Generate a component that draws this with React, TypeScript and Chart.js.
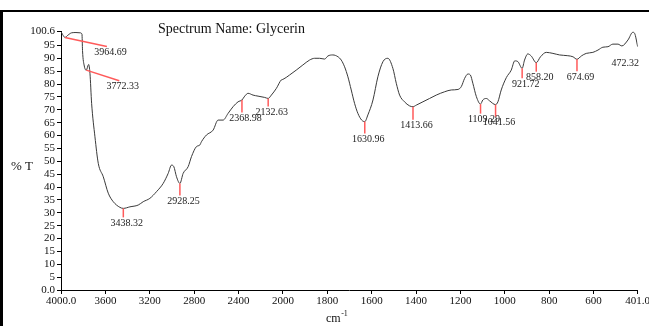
import React, { useEffect, useRef } from "react";
import { Chart, registerables } from "chart.js";

Chart.register(...registerables);

// ---------- data ----------
const spectrumWavenumbers = [
  4000, 3985, 3964.69, 3937, 3904, 3865, 3829, 3811, 3806, 3790, 3772.33, 3751, 3739, 3724, 3694, 3664,
  3619, 3574, 3529, 3469, 3438.32, 3379, 3304, 3259, 3199, 3139, 3079, 3034, 3004, 2983, 2959, 2928.25,
  2899, 2854, 2824, 2779, 2749, 2734, 2689, 2629, 2584, 2539, 2494, 2449, 2404, 2368.98, 2344, 2314,
  2269, 2224, 2164, 2132.63, 2104, 2059, 2014, 2000, 1970, 1940, 1910, 1880, 1857, 1835, 1812, 1797,
  1775, 1752, 1737, 1722, 1707, 1692, 1677, 1662, 1645, 1630.96, 1617, 1594, 1572, 1549, 1527, 1504,
  1489, 1474, 1452, 1429, 1413.66, 1399, 1369, 1339, 1309, 1271, 1241, 1211, 1196, 1181, 1166, 1155,
  1144, 1128, 1109.29, 1099, 1083, 1069, 1041.56, 1031, 1016, 993, 971, 955, 941, 921.72, 911, 896,
  881, 858.2, 839, 813, 783, 753, 716, 693, 674.69, 655, 633, 603, 580, 558, 535, 513,
  490, 472.32, 445, 423, 415, 401,
];
const spectrumTransmittance = [
  100.3, 99.2, 98.1, 99.0, 99.9, 100.0, 99.9, 99.4, 93.0, 87.0, 85.4, 87.6, 84.2, 72.5, 59.5, 49.2,
  44.0, 37.6, 34.3, 32.1, 31.7, 32.3, 33.0, 34.3, 35.6, 38.2, 41.4, 45.3, 48.5, 47.9, 44.0, 41.4,
  45.3, 47.9, 51.8, 55.7, 56.3, 57.6, 60.2, 62.1, 66.0, 66.0, 68.6, 71.2, 73.1, 73.8, 75.3, 76.4,
  75.7, 75.3, 74.8, 74.4, 75.7, 78.3, 81.6, 81.8, 83.5, 85.4, 87.4, 89.3, 90.0, 90.0, 89.7, 90.9,
  91.3, 90.6, 89.3, 86.7, 82.8, 77.7, 72.5, 68.6, 66.0, 65.4, 68.0, 73.8, 82.8, 88.7, 90.0, 86.0,
  80.3, 75.7, 73.1, 71.5, 71.2, 71.8, 73.1, 74.4, 75.7, 77.0, 77.7, 77.9, 79.0, 82.2, 83.9, 83.5,
  80.3, 75.1, 72.2, 73.8, 74.4, 73.5, 72.0, 73.1, 77.7, 82.5, 85.4, 89.0, 88.7, 86.1, 89.3, 91.7,
  90.9, 88.3, 90.6, 92.3, 91.9, 91.3, 91.0, 90.6, 89.6, 90.9, 91.9, 92.3, 93.2, 94.3, 94.5, 95.5,
  95.5, 94.8, 97.1, 100.1, 99.7, 94.5,
];

const peakWavenumbers = [3964.69, 3772.33, 3438.32, 2928.25, 2368.98, 2132.63, 1630.96, 1413.66, 1109.29, 1041.56, 921.72, 858.2, 674.69, 472.32];
const peakTransmittance = [98.1, 85.4, 31.7, 41.4, 73.8, 74.4, 65.4, 71.2, 72.2, 72.0, 86.1, 88.3, 89.6, 94.8];
const peakLabels = ["3964.69", "3772.33", "3438.32", "2928.25", "2368.98", "2132.63", "1630.96", "1413.66", "1109.29", "1041.56", "921.72", "858.20", "674.69", "472.32"];

const xTickValues = [4000, 3600, 3200, 2800, 2400, 2000, 1800, 1600, 1400, 1200, 1000, 800, 600, 401];
const xTickLabels = ["4000.0", "3600", "3200", "2800", "2400", "2000", "1800", "1600", "1400", "1200", "1000", "800", "600", "401.0"];
const yTickValues = [0, 5, 10, 15, 20, 25, 30, 35, 40, 45, 50, 55, 60, 65, 70, 75, 80, 85, 90, 95, 100.6];
const yTickLabels = ["0.0", "5", "10", "15", "20", "25", "30", "35", "40", "45", "50", "55", "60", "65", "70", "75", "80", "85", "90", "95", "100.6"];

const chartTitle = "Spectrum Name: Glycerin";
const yAxisTitle = "% T";
const xAxisTitle = "cm";
const xAxisTitleSup = "-1";

// ---------- layout of the peak markers (pixels): [dx, dy, drawLine] ----------
const peakMarkerLayout: [number, number, boolean][] = [
  [42, 9, true], [33, 10.7, true], [0, 9, true], [0, 12, true], [0, 12.6, true], [0, 8, true],
  [0, 12, true], [0, 13, true], [0, 9.5, true], [0, 12, true], [0, 10, true], [0, 9, true],
  [0, 12, true], [0, 11.4, false],
];

// wavenumber axis is expanded x2 below 2000 cm-1
function toAxis(w: number): number {
  return w >= 2000 ? 4000 - w : 2000 + 2 * (2000 - w);
}

const SERIF = '"Liberation Serif", "Times New Roman", serif';

const overlayPlugin = {
  id: "overlay",
  afterDraw(chart: any) {
    const ctx = chart.ctx as CanvasRenderingContext2D;
    const xs = chart.scales.x;
    const ys = chart.scales.y;
    ctx.save();
    // title
    ctx.fillStyle = "#111";
    ctx.textAlign = "left";
    ctx.textBaseline = "middle";
    ctx.font = `14px ${SERIF}`;
    ctx.fillText(chartTitle, 158, 29);
    // y title
    ctx.font = `13px ${SERIF}`;
    ctx.fillText(yAxisTitle, 11, 167);
    // x title
    ctx.font = `12px ${SERIF}`;
    ctx.fillText(xAxisTitle, 326, 319);
    const w = ctx.measureText(xAxisTitle).width;
    ctx.font = `8px ${SERIF}`;
    ctx.fillText(xAxisTitleSup, 326 + w + 0.5, 314);
    // peaks
    for (let i = 0; i < peakWavenumbers.length; i++) {
      const px = xs.getPixelForValue(toAxis(peakWavenumbers[i]));
      const py = ys.getPixelForValue(peakTransmittance[i]);
      const [dx, dy, line] = peakMarkerLayout[i];
      if (line) {
        ctx.strokeStyle = "#ff5a5a";
        ctx.lineWidth = 1.5;
        ctx.beginPath();
        ctx.moveTo(px, py);
        ctx.lineTo(px + dx, py + dy);
        ctx.stroke();
      }
      ctx.fillStyle = "#222";
      ctx.font = `10px ${SERIF}`;
      ctx.textAlign = "center";
      ctx.textBaseline = "middle";
      ctx.fillText(peakLabels[i], px + dx + 3.5, py + dy + 6);
    }
    ctx.restore();
  },
};

export default function App() {
  const ref = useRef<HTMLCanvasElement | null>(null);
  useEffect(() => {
    if (!ref.current) return;
    const data = spectrumWavenumbers.map((w, i) => ({ x: toAxis(w), y: spectrumTransmittance[i] }));
    const chart = new Chart(ref.current, {
      type: "line",
      data: {
        datasets: [
          {
            data,
            borderColor: "#3a3a3a",
            borderWidth: 1,
            pointRadius: 0,
            cubicInterpolationMode: "monotone",
            fill: false,
          },
        ],
      },
      options: {
        animation: false,
        responsive: false,
        devicePixelRatio: 1,
        layout: { padding: { top: 31, right: 32.3, left: 0, bottom: 0 } },
        plugins: { legend: { display: false }, tooltip: { enabled: false }, title: { display: false } },
        scales: {
          x: {
            type: "linear",
            min: 0,
            max: toAxis(xTickValues[xTickValues.length - 1]),
            afterBuildTicks: (s: any) => {
              s.ticks = xTickValues.map((v) => ({ value: toAxis(v) }));
            },
            afterFit: (s: any) => {
              s.height = 36;
            },
            ticks: {
              autoSkip: false,
              maxRotation: 0,
              minRotation: 0,
              padding: 1,
              color: "#111",
              font: { family: SERIF, size: 11 },
              callback: (_v: any, i: number) => xTickLabels[i],
            },
            grid: { display: true, drawOnChartArea: false, drawTicks: true, tickLength: 4, color: "#000" },
            border: { display: true, color: "#000", width: 1 },
          },
          y: {
            type: "linear",
            min: 0,
            max: 100.6,
            afterBuildTicks: (s: any) => {
              s.ticks = yTickValues.map((v) => ({ value: v }));
            },
            afterFit: (s: any) => {
              s.width = 61;
            },
            ticks: {
              autoSkip: false,
              padding: 2,
              color: "#111",
              font: { family: SERIF, size: 11 },
              callback: (_v: any, i: number) => yTickLabels[i],
            },
            grid: { display: true, drawOnChartArea: false, drawTicks: true, tickLength: 4, color: "#000" },
            border: { display: true, color: "#000", width: 1 },
          },
        },
      },
      plugins: [overlayPlugin],
    });
    return () => chart.destroy();
  }, []);

  return (
    <div style={{ position: "absolute", left: 0, top: 0, width: 649, height: 326, overflow: "hidden", background: "#fff" }}>
      <canvas ref={ref} width={670} height={326} style={{ position: "absolute", left: 0, top: 0, width: 670, height: 326 }} />
      <div style={{ position: "absolute", left: 0, top: 10, width: 649, height: 2, background: "#000" }} />
      <div style={{ position: "absolute", left: 0, top: 10, width: 3, height: 316, background: "#000" }} />
    </div>
  );
}
